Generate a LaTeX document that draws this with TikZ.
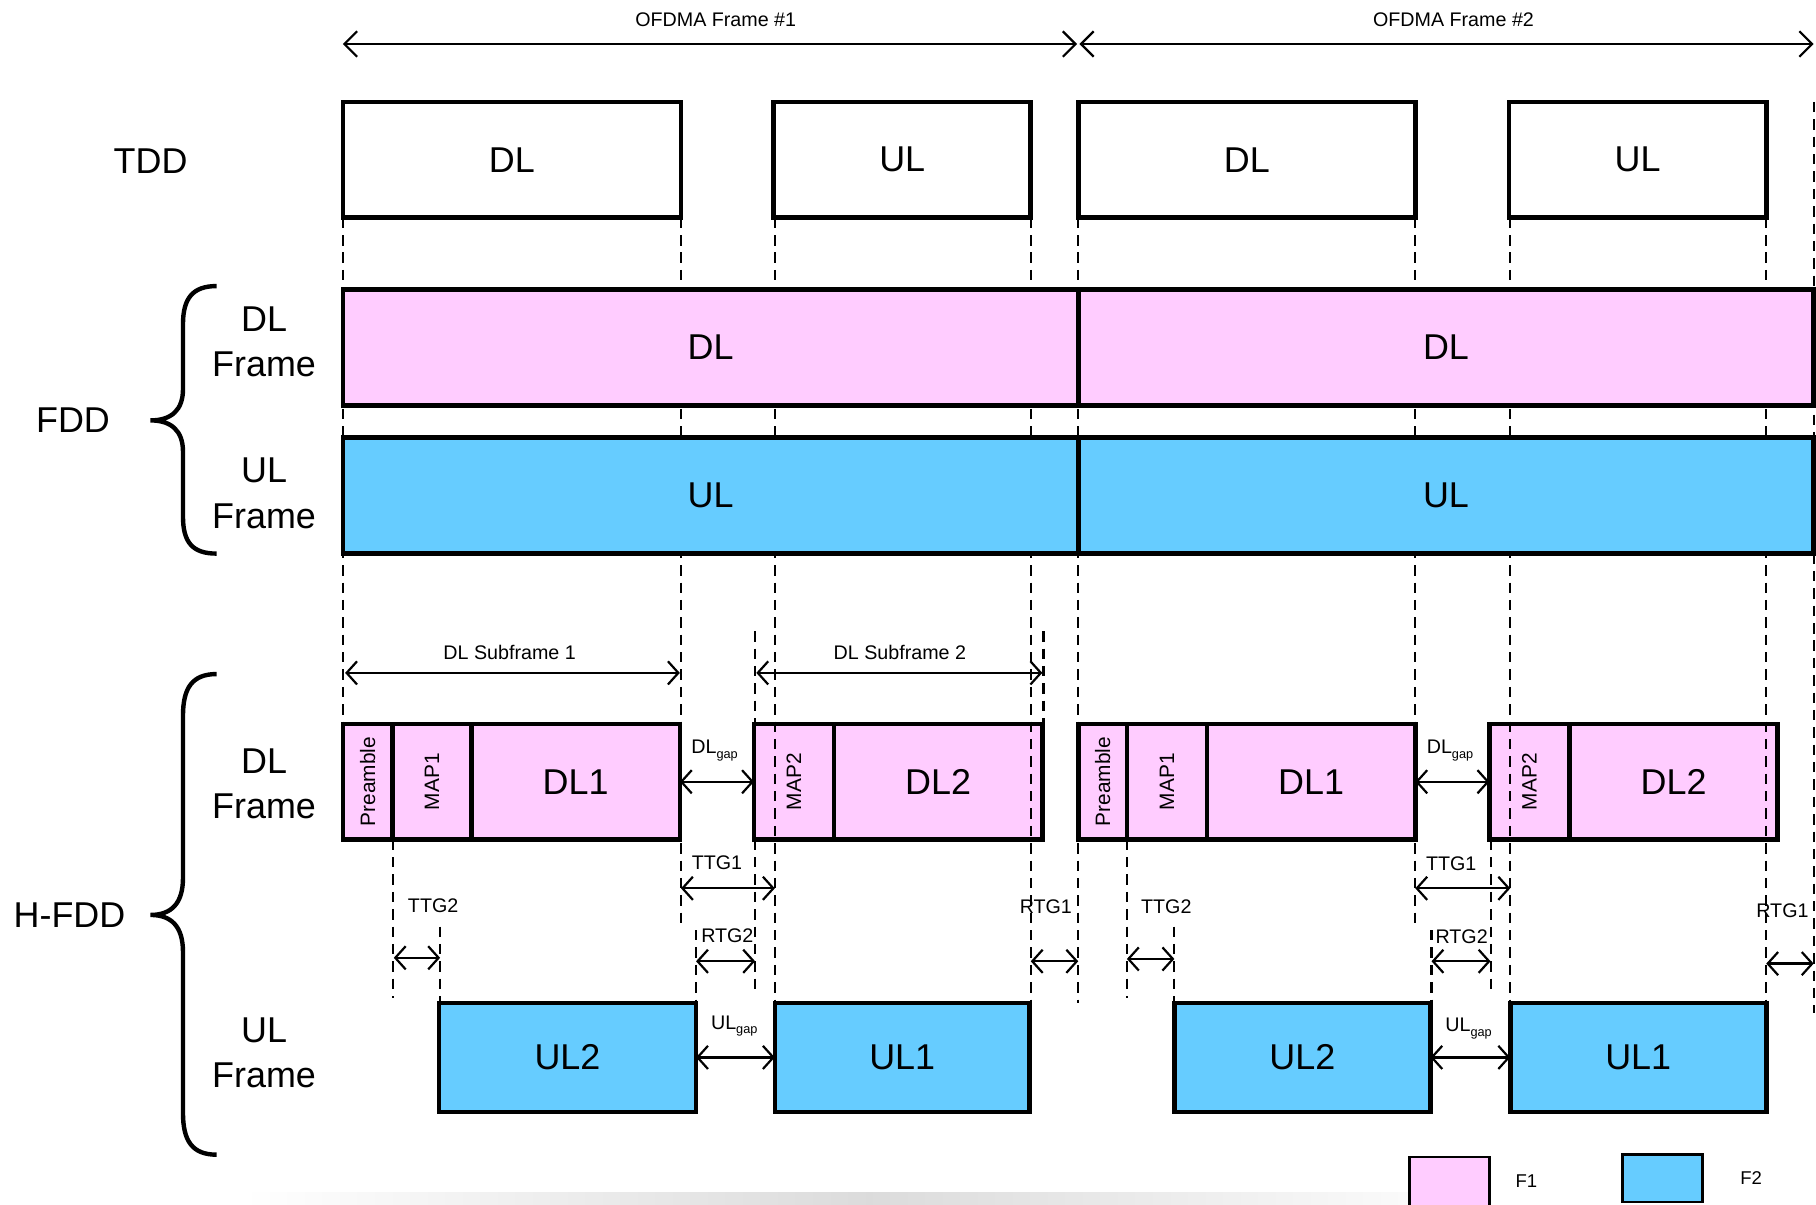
\documentclass[tikz,border=0pt]{standalone}
\usepackage{fontspec}
\setmainfont{Liberation Sans}
\usetikzlibrary{arrows.meta}
\definecolor{pinkF}{RGB}{255,204,255}
\definecolor{blueF}{RGB}{102,204,255}
\newcommand{\blk}[7]{\node[#1, minimum width={#5-#3}, minimum height={#6-#4}] (#2) at ({(#3+#5)/2},{(#4+#6)/2}) {#7};}
\newcommand{\gd}[3]{\draw[guide] (#1,#2) -- (#1,#3);}
\newcommand{\gapsub}[2]{{\fontsize{17}{20}\selectfont #1}{\fontsize{11}{12}\selectfont\raisebox{-4pt}{#2}}}
\begin{document}
\begin{tikzpicture}[x=1pt,y=-1pt,
  big/.style={font=\fontsize{31}{39}\selectfont},
  blockbox/.style={draw=black, line width=4pt, inner sep=0pt, outer sep=0pt, big},
  pinkbox/.style={blockbox, fill=pinkF},
  bluebox/.style={blockbox, fill=blueF},
  guide/.style={line width=1.8pt, dash pattern=on 9pt off 6pt},
  dim/.style={line width=1.9pt, {Straight Barb[length=9pt,width=20pt,line width=1.9pt]}-{Straight Barb[length=9pt,width=20pt,line width=1.9pt]}},
  longdim/.style={line width=1.9pt, {Straight Barb[length=11pt,width=22pt,line width=1.9pt]}-{Straight Barb[length=11pt,width=22pt,line width=1.9pt]}},
  lbl/.style={font=\fontsize{17}{20}\selectfont, inner sep=0pt},
  rot/.style={font=\fontsize{18}{20}\selectfont, rotate=90, inner sep=0pt},
  side/.style={big, align=center, inner sep=0pt},
  brace/.style={line width=3.8pt},
]
\useasboundingbox (0,0) rectangle (1568,1040);
\fill[white] (0,0) rectangle (1568,1040);
% bottom shadow band
\shade[left color=white, right color=white, middle color=black!14] (210,1030) rectangle (1290,1041);

% ---------- H-FDD DL blocks (under guides) ----------
\blk{pinkbox}{preA}{296}{625}{339}{725}{}
\blk{pinkbox}{mapA}{339}{625}{407}{725}{}
\blk{pinkbox}{dlA}{407}{625}{587}{725}{DL1}
\blk{pinkbox}{mapB}{651}{625}{720}{725}{}
\blk{pinkbox}{dlB}{720}{625}{900}{725}{DL2}
\blk{pinkbox}{preC}{931}{625}{973}{725}{}
\blk{pinkbox}{mapC}{973}{625}{1042}{725}{}
\blk{pinkbox}{dlC}{1042}{625}{1222}{725}{DL1}
\blk{pinkbox}{mapD}{1286}{625}{1355}{725}{}
\blk{pinkbox}{dlD}{1355}{625}{1535}{725}{DL2}
\node[rot] (preAt) at (preA.center) {Preamble};
\node[rot] (mapAt) at (mapA.center) {MAP1};
\node[rot] (mapBt) at (mapB.center) {MAP2};
\node[rot] (preCt) at (preC.center) {Preamble};
\node[rot] (mapCt) at (mapC.center) {MAP1};
\node[rot] (mapDt) at (mapD.center) {MAP2};

% ---------- dashed guides ----------
\gd{296}{188}{625}
\gd{588}{188}{800}
\gd{669}{188}{866}
\gd{890}{188}{866}
\gd{931}{188}{866}
\gd{1222}{188}{800}
\gd{1304}{188}{866}
\gd{1525}{188}{866}
\gd{1566}{88}{875}
\gd{339}{725}{862}
\gd{380}{800}{866}
\gd{652}{545}{857}
\gd{901}{545}{625}
\gd{601}{803}{866}
\gd{973}{725}{862}
\gd{1014}{800}{866}
\gd{1287}{725}{857}
\gd{1236}{803}{866}

% ---------- TDD ----------
\blk{blockbox}{tA}{296}{88}{588}{188}{DL}
\blk{blockbox}{tB}{668}{88}{890}{188}{UL}
\blk{blockbox}{tC}{931}{88}{1222}{188}{DL}
\blk{blockbox}{tD}{1303}{88}{1525}{188}{UL}
\node[side] (tddl) at (130,139) {TDD};

% ---------- FDD ----------
\blk{pinkbox}{fdA}{296}{250}{931}{350}{DL}
\blk{pinkbox}{fdB}{931}{250}{1566}{350}{DL}
\blk{bluebox}{fuA}{296}{378}{931}{478}{UL}
\blk{bluebox}{fuB}{931}{378}{1566}{478}{UL}
\node[side] (fddl) at (63,363) {FDD};
\node[side] (fddd) at (228,295) {DL\\Frame};
\node[side] (fddu) at (228,426) {UL\\Frame};
\draw[brace] (187,247) .. controls (166,247) and (158,258) .. (158,280) -- (158,336)
  .. controls (158,354) and (148,363) .. (130,363)
  .. controls (148,363) and (158,372) .. (158,390) -- (158,446)
  .. controls (158,468) and (166,478) .. (187,478);

% ---------- H-FDD UL blocks ----------
\blk{bluebox}{ulA}{379}{866}{601}{960}{UL2}
\blk{bluebox}{ulB}{669}{866}{889}{960}{UL1}
\blk{bluebox}{ulC}{1014}{866}{1235}{960}{UL2}
\blk{bluebox}{ulD}{1304}{866}{1525}{960}{UL1}
\node[side] (hfl) at (60,790) {H-FDD};
\node[side] (hfd) at (228,677) {DL\\Frame};
\node[side] (hfu) at (228,909) {UL\\Frame};
\draw[brace] (187,582) .. controls (166,582) and (158,594) .. (158,618) -- (158,758)
  .. controls (158,780) and (148,790) .. (130,790)
  .. controls (148,790) and (158,800) .. (158,822) -- (158,961)
  .. controls (158,985) and (166,997) .. (187,997);

% ---------- OFDMA frames ----------
\coordinate (o0) at (296,38);
\coordinate (o1) at (930,38);
\coordinate (o1b) at (932,38);
\coordinate (o2) at (1566,38);
\draw[longdim] (o0) -- (o1);
\draw[longdim] (o1b) -- (o2);
\node[lbl] (of1) at (618,17) {OFDMA Frame \#1};
\node[lbl] (of2) at (1255,17) {OFDMA Frame \#2};

% ---------- dimension arrows ----------
\coordinate (s1a) at (298,581); \coordinate (s1b) at (587,581);
\coordinate (s2a) at (653,581); \coordinate (s2b) at (900,581);
\draw[dim] (s1a) -- (s1b);
\draw[dim] (s2a) -- (s2b);
\node[lbl] (s1l) at (440,563) {DL Subframe 1};
\node[lbl] (s2l) at (777,563) {DL Subframe 2};

\draw[dim] (dlA.east) -- (mapB.west);
\draw[dim] (dlC.east) -- (mapD.west);
\node[lbl] (dg1) at (617,648) {\gapsub{DL}{gap}};
\node[lbl] (dg2) at (1252,648) {\gapsub{DL}{gap}};

\draw[dim] (ulA.east) -- (ulB.west);
\draw[dim] (ulC.east) -- (ulD.west);
\node[lbl] (ug1) at (634,886) {\gapsub{UL}{gap}};
\node[lbl] (ug2) at (1268,888) {\gapsub{UL}{gap}};

\coordinate (ta1) at (588,767); \coordinate (ta2) at (669,767);
\coordinate (tb1) at (1222,767); \coordinate (tb2) at (1304,767);
\draw[dim] (ta1) -- (ta2);
\draw[dim] (tb1) -- (tb2);
\node[lbl] (tl1) at (619,745) {TTG1};
\node[lbl] (tl2) at (1253,746) {TTG1};

\coordinate (u1) at (340,827); \coordinate (u2) at (380,827);
\coordinate (u3) at (973,828); \coordinate (u4) at (1014,828);
\draw[dim] (u1) -- (u2);
\draw[dim] (u3) -- (u4);
\node[lbl] (t2l1) at (374,782) {TTG2};
\node[lbl] (t2l2) at (1007,783) {TTG2};

\coordinate (r1) at (601,830); \coordinate (r2) at (652,830);
\coordinate (r3) at (1236,830); \coordinate (r4) at (1287,830);
\draw[dim] (r1) -- (r2);
\draw[dim] (r3) -- (r4);
\node[lbl] (r2l1) at (628,808) {RTG2};
\node[lbl] (r2l2) at (1262,809) {RTG2};

\coordinate (q1) at (890,830); \coordinate (q2) at (931,830);
\coordinate (q3) at (1525,832); \coordinate (q4) at (1566,832);
\draw[dim] (q1) -- (q2);
\draw[dim] (q3) -- (q4);
\node[lbl] (r1l1) at (903,783) {RTG1};
\node[lbl] (r1l2) at (1539,786) {RTG1};

% ---------- legend ----------
\node[draw, line width=2.2pt, fill=pinkF, minimum width=69, minimum height=46, inner sep=0pt] (lgA) at (1251.5,1022) {};
\node[draw, line width=2.2pt, fill=blueF, minimum width=69, minimum height=41, inner sep=0pt] (lgB) at (1435.5,1017.5) {};
\node[font=\fontsize{16}{18}\selectfont, inner sep=0pt] (lgAt) at (1318,1020) {F1};
\node[font=\fontsize{16}{18}\selectfont, inner sep=0pt] (lgBt) at (1512,1017) {F2};
\end{tikzpicture}
\end{document}
